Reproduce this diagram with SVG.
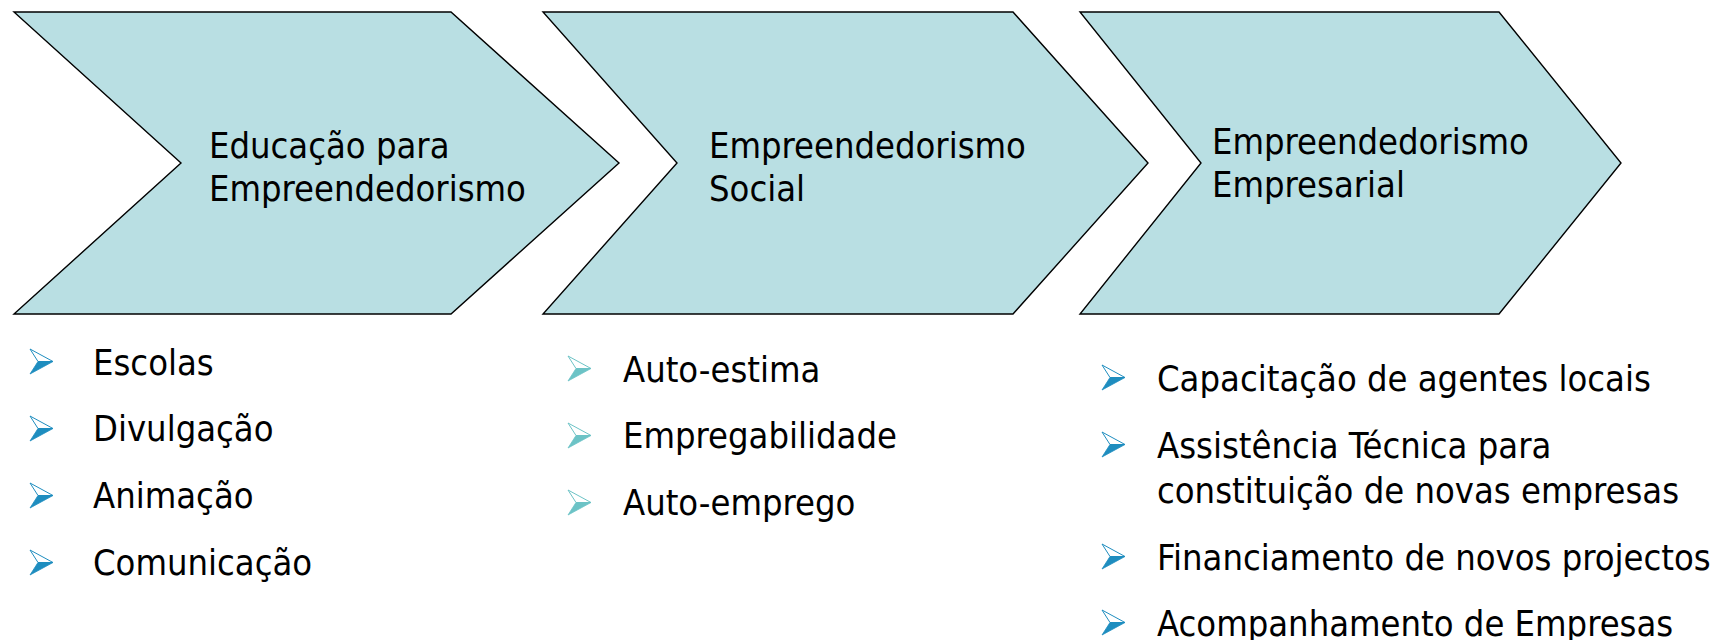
<svg xmlns="http://www.w3.org/2000/svg" xmlns:xlink="http://www.w3.org/1999/xlink" width="1723" height="640" viewBox="0 0 1723 640">
<style>
.chev{fill:#B9DFE3;stroke:#000;stroke-width:1.4;stroke-linejoin:miter}
.t{font-family:"DejaVu Sans Condensed","DejaVu Sans",Tahoma,sans-serif;font-size:36px;fill:#000}
.b1{color:#1E8DBF}
.b2{color:#6CC3C6}
</style>
<defs>
<g id="bul">
<path d="M0,0 L23,12.5 L8,12.5 Z" fill="#fff" stroke="currentColor" stroke-width="1"/>
<path d="M8,12.5 L23,12.5 L0,25 Z" fill="currentColor" stroke="currentColor" stroke-width="0.8" stroke-linejoin="round"/>
</g>
</defs>
<rect width="1723" height="640" fill="#fff"/>
<g id="node-educacao">
<polygon class="chev" points="14,12 451,12 619,163 451,314 14,314 181,163"/>
<text class="t" x="209" y="158">Educação para</text>
<text class="t" x="209" y="201">Empreendedorismo</text>
</g>
<g id="node-social">
<polygon class="chev" points="543,12 1013,12 1148,163 1013,314 543,314 677,163"/>
<text class="t" x="709" y="158">Empreendedorismo</text>
<text class="t" x="709" y="201">Social</text>
</g>
<g id="node-empresarial">
<polygon class="chev" points="1080,12 1499,12 1621,163 1499,314 1080,314 1201,163"/>
<text class="t" x="1212" y="154">Empreendedorismo</text>
<text class="t" x="1212" y="197">Empresarial</text>
</g>
<g id="list-educacao" class="b1">
<use xlink:href="#bul" x="30" y="349"/>
<use xlink:href="#bul" x="30" y="416"/>
<use xlink:href="#bul" x="30" y="483"/>
<use xlink:href="#bul" x="30" y="550"/>
<text class="t" x="93" y="375">Escolas</text>
<text class="t" x="93" y="441">Divulgação</text>
<text class="t" x="93" y="508">Animação</text>
<text class="t" x="93" y="575">Comunicação</text>
</g>
<g id="list-social" class="b2">
<use xlink:href="#bul" x="568" y="356"/>
<use xlink:href="#bul" x="568" y="423"/>
<use xlink:href="#bul" x="568" y="490"/>
<text class="t" x="623" y="382">Auto-estima</text>
<text class="t" x="623" y="448">Empregabilidade</text>
<text class="t" x="623" y="515">Auto-emprego</text>
</g>
<g id="list-empresarial" class="b1">
<use xlink:href="#bul" x="1102" y="365"/>
<use xlink:href="#bul" x="1102" y="432"/>
<use xlink:href="#bul" x="1102" y="544"/>
<use xlink:href="#bul" x="1102" y="610"/>
<text class="t" x="1157" y="391">Capacitação de agentes locais</text>
<text class="t" x="1157" y="458">Assistência Técnica para</text>
<text class="t" x="1157" y="503">constituição de novas empresas</text>
<text class="t" x="1157" y="570">Financiamento de novos projectos</text>
<text class="t" x="1157" y="636">Acompanhamento de Empresas</text>
</g>
</svg>
